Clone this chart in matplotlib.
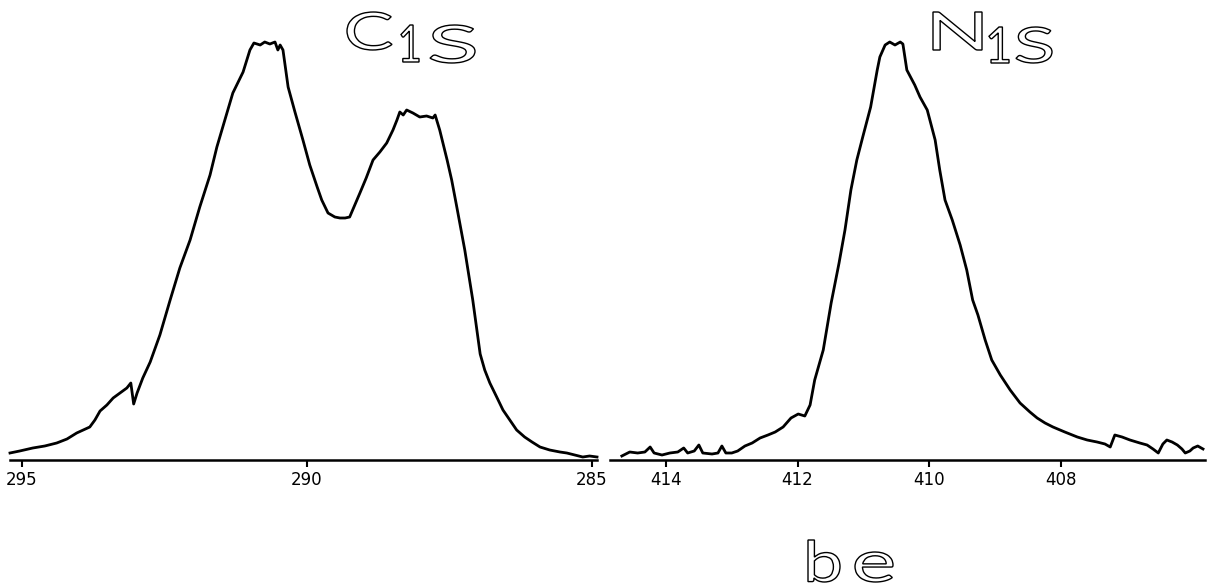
import matplotlib
matplotlib.use("Agg")
import matplotlib.pyplot as plt
from matplotlib.textpath import TextPath
from matplotlib.font_manager import FontProperties
from matplotlib.patches import PathPatch
from matplotlib.transforms import Affine2D

# C 1s region: binding energy (eV) and intensity (arb. units)
c1s_be = [295.21, 295.04, 294.81, 294.60, 294.39, 294.21, 294.04, 293.81, 293.72, 293.63,
          293.51, 293.40, 293.28, 293.16, 293.09, 293.04, 292.98, 292.88, 292.75, 292.58,
          292.40, 292.23, 292.05, 291.88, 291.70, 291.58, 291.44, 291.30, 291.12, 291.00,
          290.93, 290.82, 290.74, 290.65, 290.56, 290.51, 290.47, 290.42, 290.33, 290.21,
          290.07, 289.95, 289.82, 289.74, 289.63, 289.51, 289.42, 289.33, 289.25, 289.16,
          289.07, 288.96, 288.84, 288.72, 288.60, 288.49, 288.42, 288.37, 288.31, 288.25,
          288.14, 288.02, 287.90, 287.79, 287.75, 287.67, 287.54, 287.46, 287.37, 287.23,
          287.09, 286.96, 286.88, 286.79, 286.67, 286.56, 286.44, 286.32, 286.18, 286.05,
          285.91, 285.74, 285.56, 285.44, 285.30, 285.16, 285.04, 284.91]
c1s_int = [7, 9, 12, 14, 17, 21, 27, 33, 40, 49,
           55, 62, 67, 72, 77, 56, 67, 82, 98, 125,
           160, 192, 220, 253, 285, 313, 340, 367, 388, 410,
           417, 415, 418, 416, 418, 410, 415, 410, 373, 348,
           320, 295, 273, 260, 247, 243, 242, 242, 243, 255,
           267, 282, 300, 308, 317, 330, 340, 348, 345, 350,
           347, 343, 344, 342, 345, 330, 300, 280, 253, 210,
           160, 106, 90, 77, 63, 50, 40, 30, 23, 18,
           13, 10, 8, 7, 5, 3, 4, 3]

# N 1s region
n1s_be = [414.67, 414.55, 414.43, 414.32, 414.24, 414.18, 414.06, 413.94, 413.82, 413.73,
          413.67, 413.57, 413.50, 413.44, 413.30, 413.21, 413.15, 413.09, 413.00, 412.91,
          412.80, 412.69, 412.57, 412.45, 412.34, 412.22, 412.10, 411.99, 411.89, 411.81,
          411.74, 411.61, 411.49, 411.37, 411.28, 411.19, 411.10, 411.01, 410.89, 410.79,
          410.75, 410.67, 410.60, 410.52, 410.44, 410.40, 410.34, 410.22, 410.14, 410.03,
          409.99, 409.91, 409.84, 409.76, 409.65, 409.53, 409.43, 409.34, 409.26, 409.15,
          409.05, 408.92, 408.77, 408.62, 408.47, 408.36, 408.24, 408.12, 407.94, 407.75,
          407.60, 407.45, 407.33, 407.25, 407.18, 407.07, 406.95, 406.80, 406.69, 406.60,
          406.52, 406.45, 406.39, 406.31, 406.23, 406.16, 406.11, 406.04, 405.99, 405.92,
          405.84]
n1s_int = [4, 8, 7, 8, 13, 7, 5, 7, 8, 12,
           7, 9, 15, 7, 6, 7, 14, 7, 7, 9,
           14, 17, 22, 25, 28, 33, 42, 46, 44, 55,
           80, 110, 157, 197, 230, 270, 300, 323, 353, 390,
           403, 415, 418, 415, 418, 416, 390, 375, 363, 350,
           340, 320, 290, 260, 240, 215, 190, 160, 145, 120,
           100, 85, 70, 57, 48, 42, 37, 33, 28, 23,
           20, 18, 16, 13, 25, 23, 20, 17, 15, 11,
           7, 16, 20, 18, 15, 11, 7, 9, 12, 14,
           11]

c1s_ticks = [295, 290, 285]
n1s_ticks = [414, 412, 410, 408]

W, H = 1215, 588
fig = plt.figure(figsize=(W / 100, H / 100), dpi=100)
fig.patch.set_facecolor("white")

bottom = 128 / H
height = 430 / H
ax_c = fig.add_axes([10 / W, bottom, 587 / W, height])
ax_n = fig.add_axes([610 / W, bottom, 595 / W, height])

for ax, be, inten, ticks, xlim in [
    (ax_c, c1s_be, c1s_int, c1s_ticks, (295.21, 284.91)),
    (ax_n, n1s_be, n1s_int, n1s_ticks, (414.85, 405.81)),
]:
    ax.plot(be, inten, color="black", lw=2.0, solid_joinstyle="round", clip_on=False)
    ax.set_xlim(*xlim)
    ax.set_ylim(0, 430)
    for side in ("top", "left", "right"):
        ax.spines[side].set_visible(False)
    ax.spines["bottom"].set_linewidth(1.8)
    ax.set_yticks([])
    ax.set_xticks(ticks)
    ax.set_xticklabels([str(t) for t in ticks])
    ax.tick_params(axis="x", direction="out", length=5, width=1.5, pad=3,
                   labelsize=12, colors="black")
    ax.patch.set_alpha(0)

# Outlined (hollow) lettering, each glyph group fitted into a pixel box
font = FontProperties(family=["Lato", "DejaVu Sans"], weight="normal")


def outline_text(s, x0, y0, x1, y1):
    tp = TextPath((0, 0), s, size=50, prop=font)
    ext = tp.get_extents()
    sx = (x1 - x0) / ext.width
    sy = (y1 - y0) / ext.height
    tr = (Affine2D().translate(-ext.x0, -ext.y0).scale(sx, sy)
          .translate(x0, H - y1))
    fig.add_artist(PathPatch(tp, transform=tr, facecolor="white",
                             edgecolor="black", lw=1.0))


outline_text("C", 347, 12, 392, 50)
outline_text("1", 401, 25, 419, 62)
outline_text("S", 430, 25, 475, 63)
outline_text("N", 933, 12, 982, 50)
outline_text("1", 989, 27, 1009, 63)
outline_text("S", 1016, 27, 1052, 63)
outline_text("b", 808, 540, 840, 582)
outline_text("e", 855, 552, 893, 582)

fig.savefig("out.png", dpi=100, facecolor="white")
